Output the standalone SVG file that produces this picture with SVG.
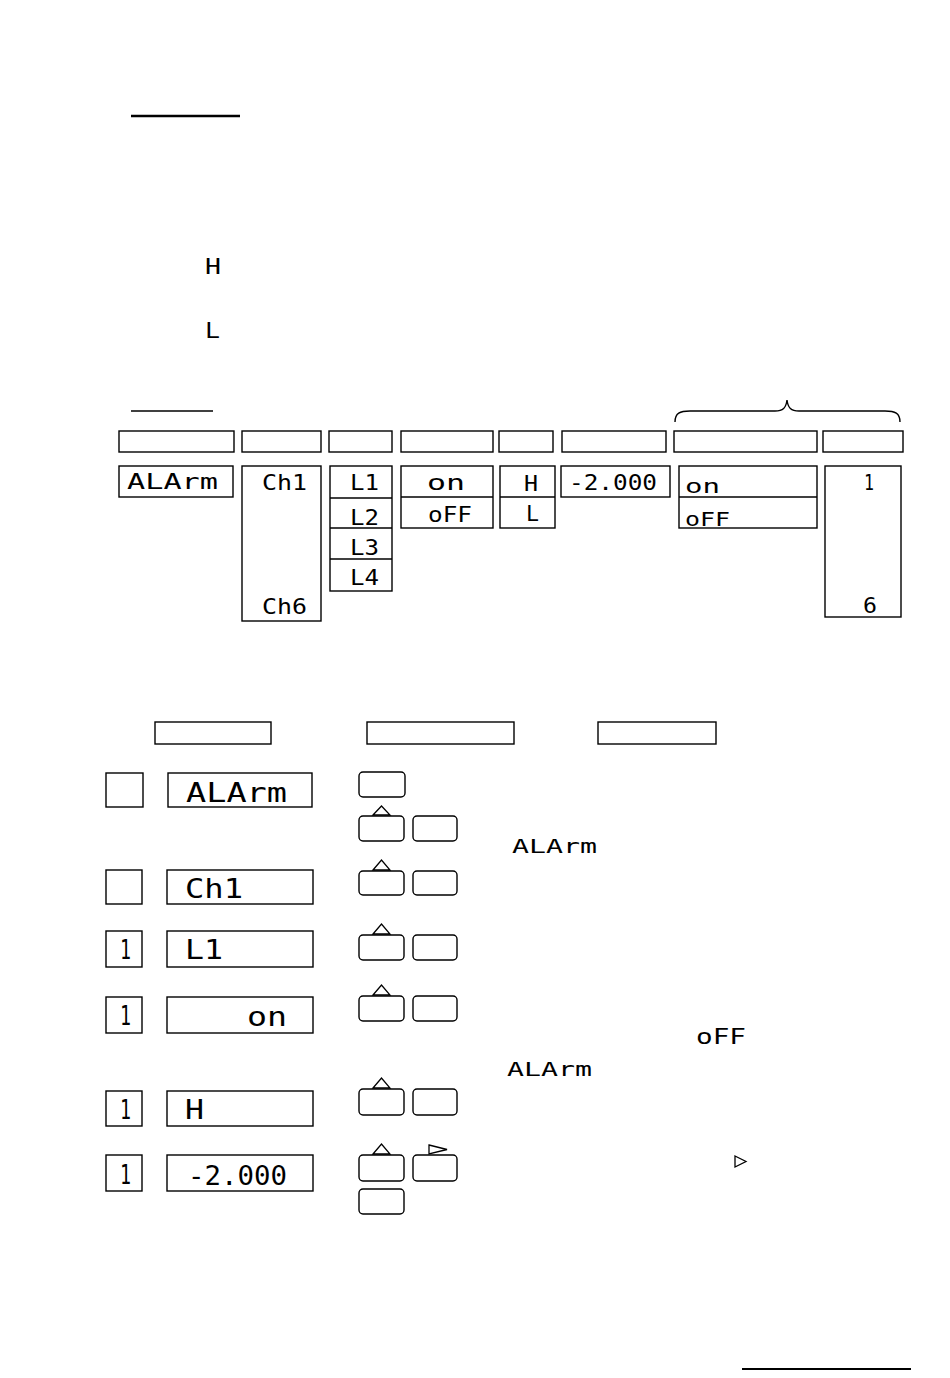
<svg xmlns="http://www.w3.org/2000/svg" width="950" height="1378" viewBox="0 0 950 1378">
<defs>
<style>
.bx{fill:none;stroke:#000;stroke-width:1.4}
.key{fill:none;stroke:#000;stroke-width:1.4}
.tri{fill:none;stroke:#000;stroke-width:1.3;stroke-linejoin:miter}
.ln{stroke:#000}
.seg{font-family:"DejaVu Sans Mono","Liberation Mono",monospace;fill:#000}
.s22{font-size:22px}
.s27{font-size:27px}
.s19{font-size:19px}
</style>
</defs>
<rect width="950" height="1378" fill="#fff"/>

<g id="headings">
<line class="ln" x1="131" y1="116" x2="240" y2="116" stroke-width="2.5"/>
<line class="ln" x1="131" y1="411" x2="213" y2="411" stroke-width="1.6"/>
<line class="ln" x1="742" y1="1369" x2="911" y2="1369" stroke-width="1.8"/>
<text class="seg s22" x="205" y="274" textLength="16" lengthAdjust="spacingAndGlyphs">H</text>
<text class="seg s22" x="205" y="338" textLength="15" lengthAdjust="spacingAndGlyphs">L</text>
</g>

<g id="connectors">
<path class="bx" d="M675,422 C675,413 680,411 690,411 L775,411 C783,411 786,408 787,400 C788,408 791,411 799,411 L885,411 C895,411 900,413 900,422"/>
</g>

<g id="header-row">
<rect class="bx" x="119" y="431" width="115" height="21"/>
<rect class="bx" x="242" y="431" width="79" height="21"/>
<rect class="bx" x="329" y="431" width="63" height="21"/>
<rect class="bx" x="401" y="431" width="92" height="21"/>
<rect class="bx" x="499" y="431" width="54" height="21"/>
<rect class="bx" x="562" y="431" width="104" height="21"/>
<rect class="bx" x="674" y="431" width="143" height="21"/>
<rect class="bx" x="823" y="431" width="80" height="21"/>
</g>

<g id="col-alarm">
<rect class="bx" x="119" y="466" width="114" height="31"/>
<text class="seg s22" x="127" y="489" textLength="91" lengthAdjust="spacingAndGlyphs">ALArm</text>
</g>
<g id="col-ch">
<rect class="bx" x="242" y="466" width="79" height="155"/>
<text class="seg s22" x="262" y="490" textLength="45" lengthAdjust="spacingAndGlyphs">Ch1</text>
<text class="seg s22" x="262" y="614" textLength="45" lengthAdjust="spacingAndGlyphs">Ch6</text>
</g>
<g id="col-level">
<rect class="bx" x="330" y="466" width="62" height="125"/>
<line class="ln" x1="330" y1="498" x2="392" y2="498" stroke-width="1.4"/>
<line class="ln" x1="330" y1="528" x2="392" y2="528" stroke-width="1.4"/>
<line class="ln" x1="330" y1="559" x2="392" y2="559" stroke-width="1.4"/>
<text class="seg s22" x="350" y="490" textLength="29" lengthAdjust="spacingAndGlyphs">L1</text>
<text class="seg s22" x="350" y="525" textLength="29" lengthAdjust="spacingAndGlyphs">L2</text>
<text class="seg s22" x="350" y="555" textLength="29" lengthAdjust="spacingAndGlyphs">L3</text>
<text class="seg s22" x="350" y="585" textLength="29" lengthAdjust="spacingAndGlyphs">L4</text>
</g>
<g id="col-onoff">
<rect class="bx" x="401" y="466" width="92" height="62"/>
<line class="ln" x1="401" y1="497" x2="493" y2="497" stroke-width="1.4"/>
<text class="seg s22" x="427" y="490" textLength="38" lengthAdjust="spacingAndGlyphs">on</text>
<text class="seg s22" x="428" y="522" textLength="44" lengthAdjust="spacingAndGlyphs">oFF</text>
</g>
<g id="col-hl">
<rect class="bx" x="500" y="466" width="55" height="62"/>
<line class="ln" x1="500" y1="497" x2="555" y2="497" stroke-width="1.4"/>
<text class="seg s22" x="524" y="491" textLength="14" lengthAdjust="spacingAndGlyphs">H</text>
<text class="seg s22" x="526" y="521" textLength="13" lengthAdjust="spacingAndGlyphs">L</text>
</g>
<g id="col-value">
<rect class="bx" x="561" y="466" width="109" height="31"/>
<text class="seg s22" x="569" y="490" textLength="88" lengthAdjust="spacingAndGlyphs">-2.000</text>
</g>
<g id="col-onoff2">
<rect class="bx" x="679" y="466" width="138" height="62"/>
<line class="ln" x1="679" y1="497" x2="817" y2="497" stroke-width="1.4"/>
<text class="seg s19" x="685" y="493" textLength="35" lengthAdjust="spacingAndGlyphs">on</text>
<text class="seg s19" x="685" y="526" textLength="45" lengthAdjust="spacingAndGlyphs">oFF</text>
</g>
<g id="col-num">
<rect class="bx" x="825" y="466" width="76" height="151"/>
<text class="seg s22" x="864" y="490" textLength="10" lengthAdjust="spacingAndGlyphs">1</text>
<text class="seg s22" x="863" y="613" textLength="14" lengthAdjust="spacingAndGlyphs">6</text>
</g>

<g id="lower-headers">
<rect class="bx" x="155" y="722" width="116" height="22"/>
<rect class="bx" x="367" y="722" width="147" height="22"/>
<rect class="bx" x="598" y="722" width="118" height="22"/>
</g>

<g id="step1">
<rect class="bx" x="106" y="773" width="37" height="34"/>
<rect class="bx" x="168" y="773" width="144" height="34"/>
<text class="seg s27" x="186" y="802" textLength="101" lengthAdjust="spacingAndGlyphs">ALArm</text>
<rect class="key" x="359" y="772" width="46" height="25" rx="4"/>
<polygon class="tri" points="373,815 381.5,806 390,815"/>
<rect class="key" x="359" y="816" width="45" height="25" rx="4"/>
<rect class="key" x="413" y="816" width="44" height="25" rx="4"/>
<text class="seg s19" x="512" y="853" textLength="85" lengthAdjust="spacingAndGlyphs">ALArm</text>
</g>

<g id="step2">
<rect class="bx" x="106" y="870" width="36" height="34"/>
<rect class="bx" x="167" y="870" width="146" height="34"/>
<text class="seg s27" x="185" y="898" textLength="58" lengthAdjust="spacingAndGlyphs">Ch1</text>
<polygon class="tri" points="373,870 381.5,860 390,870"/>
<rect class="key" x="359" y="871" width="45" height="24" rx="4"/>
<rect class="key" x="413" y="871" width="44" height="24" rx="4"/>
</g>

<g id="step3">
<rect class="bx" x="106" y="931" width="36" height="36"/>
<text class="seg s27" x="120" y="959" textLength="11" lengthAdjust="spacingAndGlyphs">1</text>
<rect class="bx" x="167" y="931" width="146" height="36"/>
<text class="seg s27" x="185" y="959" textLength="38" lengthAdjust="spacingAndGlyphs">L1</text>
<polygon class="tri" points="373,934 381.5,924 390,934"/>
<rect class="key" x="359" y="935" width="45" height="25" rx="4"/>
<rect class="key" x="413" y="935" width="44" height="25" rx="4"/>
</g>

<g id="step4">
<rect class="bx" x="106" y="997" width="36" height="36"/>
<text class="seg s27" x="120" y="1025" textLength="11" lengthAdjust="spacingAndGlyphs">1</text>
<rect class="bx" x="167" y="997" width="146" height="36"/>
<text class="seg s27" x="247" y="1026" textLength="40" lengthAdjust="spacingAndGlyphs">on</text>
<polygon class="tri" points="373,995 381.5,985 390,995"/>
<rect class="key" x="359" y="996" width="45" height="25" rx="4"/>
<rect class="key" x="413" y="996" width="44" height="25" rx="4"/>
<text class="seg s22" x="696" y="1044" textLength="50" lengthAdjust="spacingAndGlyphs">oFF</text>
<text class="seg s19" x="507" y="1076" textLength="85" lengthAdjust="spacingAndGlyphs">ALArm</text>
</g>

<g id="step5">
<rect class="bx" x="106" y="1091" width="36" height="35"/>
<text class="seg s27" x="120" y="1119" textLength="11" lengthAdjust="spacingAndGlyphs">1</text>
<rect class="bx" x="167" y="1091" width="146" height="35"/>
<text class="seg s27" x="185" y="1119" textLength="19" lengthAdjust="spacingAndGlyphs">H</text>
<polygon class="tri" points="373,1088 381.5,1078 390,1088"/>
<rect class="key" x="359" y="1089" width="45" height="26" rx="4"/>
<rect class="key" x="413" y="1089" width="44" height="26" rx="4"/>
</g>

<g id="step6">
<rect class="bx" x="106" y="1155" width="36" height="36"/>
<text class="seg s27" x="120" y="1184" textLength="11" lengthAdjust="spacingAndGlyphs">1</text>
<rect class="bx" x="167" y="1155" width="146" height="36"/>
<text class="seg s27" x="188" y="1185" textLength="99" lengthAdjust="spacingAndGlyphs">-2.000</text>
<polygon class="tri" points="373,1154 381.5,1144 390,1154"/>
<polygon class="tri" points="429,1145 447,1149.5 429,1154"/>
<rect class="key" x="359" y="1155" width="45" height="26" rx="4"/>
<rect class="key" x="413" y="1155" width="44" height="26" rx="4"/>
<rect class="key" x="359" y="1189" width="45" height="25" rx="4"/>
<polygon class="tri" points="735,1156 746,1161.5 735,1167"/>
</g>
</svg>
